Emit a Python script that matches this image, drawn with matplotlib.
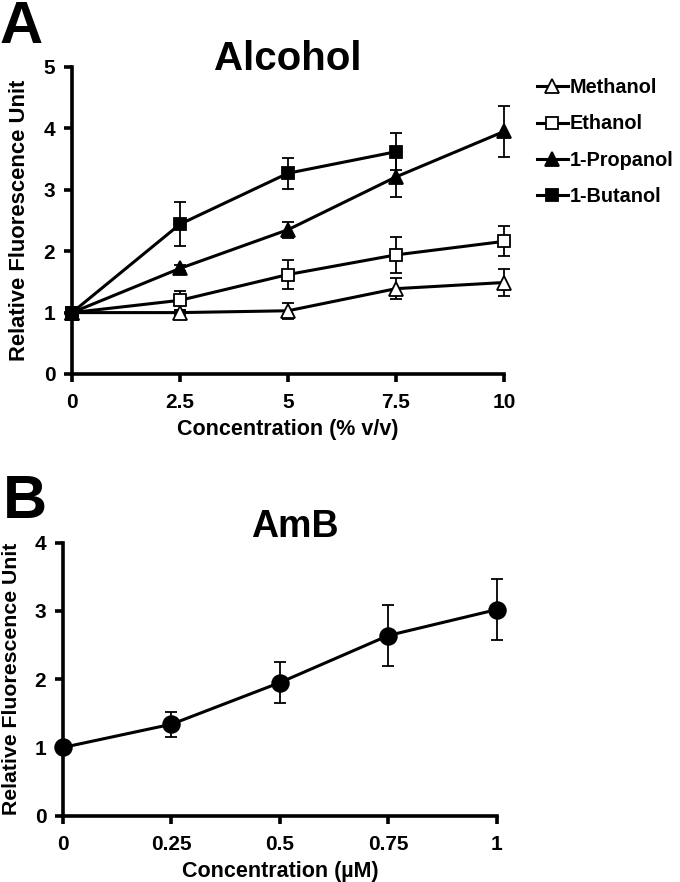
import matplotlib
matplotlib.use("Agg")
import matplotlib.pyplot as plt
from matplotlib.lines import Line2D

plt.rcParams['font.family'] = ['Liberation Sans', 'DejaVu Sans']
plt.rcParams['font.weight'] = 'bold'

# ---- Panel A data ----
conc_a = [0, 2.5, 5, 7.5, 10]
methanol = [1.0, 1.0, 1.03, 1.39, 1.49]
methanol_err = [0.0, 0.04, 0.13, 0.17, 0.22]
ethanol = [1.0, 1.2, 1.62, 1.94, 2.16]
ethanol_err = [0.0, 0.15, 0.24, 0.29, 0.245]
propanol = [1.0, 1.72, 2.35, 3.21, 3.95]
propanol_err = [0.0, 0.05, 0.13, 0.32, 0.42]
conc_a_but = [0, 2.5, 5, 7.5]
butanol = [1.0, 2.44, 3.27, 3.62]
butanol_err = [0.0, 0.36, 0.25, 0.30]
xticks_a = [0, 2.5, 5, 7.5, 10]
xticklabels_a = ['0', '2.5', '5', '7.5', '10']
yticks_a = [0, 1, 2, 3, 4, 5]

# ---- Panel B data ----
conc_b = [0, 0.25, 0.5, 0.75, 1]
amb = [1.0, 1.34, 1.95, 2.64, 3.02]
amb_err = [0.0, 0.18, 0.30, 0.45, 0.45]
xticks_b = [0, 0.25, 0.5, 0.75, 1]
xticklabels_b = ['0', '0.25', '0.5', '0.75', '1']
yticks_b = [0, 1, 2, 3, 4]

W, H = 680, 882
fig = plt.figure(figsize=(W / 100, H / 100), dpi=100)

def style_axes(ax):
    for s in ['top', 'right']:
        ax.spines[s].set_visible(False)
    for s in ['left', 'bottom']:
        ax.spines[s].set_linewidth(2.6)
    ax.tick_params(axis='both', direction='out', length=6, width=2.6,
                   labelsize=15)
    ax.tick_params(axis='x', pad=8)
    ax.tick_params(axis='y', pad=6)
    for lab in ax.get_xticklabels() + ax.get_yticklabels():
        lab.set_fontweight('bold')

lw = 2.2
common = dict(color='black', ecolor='black', elinewidth=1.3, capsize=4.5,
              capthick=1.3, linewidth=lw, markeredgecolor='black',
              markeredgewidth=1.3, clip_on=False)

# Panel A
axA = fig.add_axes([72 / W, 1 - 374 / H, (504 - 72) / W, (374 - 67) / H])
axA.errorbar(conc_a, methanol, yerr=methanol_err, fmt='-^', markersize=10,
             markerfacecolor='white', label='Methanol', **common)
axA.errorbar(conc_a, ethanol, yerr=ethanol_err, fmt='-s', markersize=9,
             markerfacecolor='white', label='Ethanol', **common)
axA.errorbar(conc_a, propanol, yerr=propanol_err, fmt='-^', markersize=10,
             markerfacecolor='black', label='1-Propanol', **common)
axA.errorbar(conc_a_but, butanol, yerr=butanol_err, fmt='-s', markersize=9,
             markerfacecolor='black', label='1-Butanol', **common)
axA.set_xlim(0, 10)
axA.set_ylim(0, 5)
axA.set_xticks(xticks_a)
axA.set_xticklabels(xticklabels_a)
axA.set_yticks(yticks_a)
axA.set_xlabel('Concentration (% v/v)', fontsize=15.5, fontweight='bold', labelpad=5)
axA.set_ylabel('Relative Fluorescence Unit', fontsize=15.8, fontweight='bold', labelpad=10)
style_axes(axA)

handles = [
    Line2D([], [], color='black', lw=lw, marker='^', markersize=10,
           markerfacecolor='white', markeredgecolor='black', markeredgewidth=1.3),
    Line2D([], [], color='black', lw=lw, marker='s', markersize=9,
           markerfacecolor='white', markeredgecolor='black', markeredgewidth=1.3),
    Line2D([], [], color='black', lw=lw, marker='^', markersize=10,
           markerfacecolor='black', markeredgecolor='black', markeredgewidth=1.3),
    Line2D([], [], color='black', lw=lw, marker='s', markersize=9,
           markerfacecolor='black', markeredgecolor='black', markeredgewidth=1.3),
]
labels = ['Methanol', 'Ethanol', '1-Propanol', '1-Butanol']
fig.legend(handles, labels, loc='upper left',
           bbox_to_anchor=(537 / W, 1 - 78 / H), frameon=False,
           prop={'size': 14.3, 'weight': 'bold'}, handlelength=1.55,
           handletextpad=0.1, labelspacing=0.88, borderpad=0, borderaxespad=0)

fig.text(288 / W, 1 - 70 / H, 'Alcohol', fontsize=29, fontweight='bold',
         ha='center', va='baseline')
fig.text(0 / W, 1 - 43 / H, 'A', fontsize=43, fontweight='bold',
         ha='left', va='baseline')

# Panel B
axB = fig.add_axes([63 / W, 1 - 815.7 / H, (496.7 - 63) / W, (815.7 - 542.7) / H])
axB.errorbar(conc_b, amb, yerr=amb_err, fmt='-o', markersize=12,
             markerfacecolor='black', **common)
axB.set_xlim(0, 1)
axB.set_ylim(0, 4)
axB.set_xticks(xticks_b)
axB.set_xticklabels(xticklabels_b)
axB.set_yticks(yticks_b)
axB.set_xlabel('Concentration (µM)', fontsize=15.5, fontweight='bold', labelpad=5)
axB.set_ylabel('Relative Fluorescence Unit', fontsize=15.3, fontweight='bold', labelpad=10)
style_axes(axB)

fig.text(295 / W, 1 - 537 / H, 'AmB', fontsize=27, fontweight='bold',
         ha='center', va='baseline')
fig.text(3 / W, 1 - 518 / H, 'B', fontsize=44, fontweight='bold',
         ha='left', va='baseline')

fig.savefig('out.png', dpi=100)
